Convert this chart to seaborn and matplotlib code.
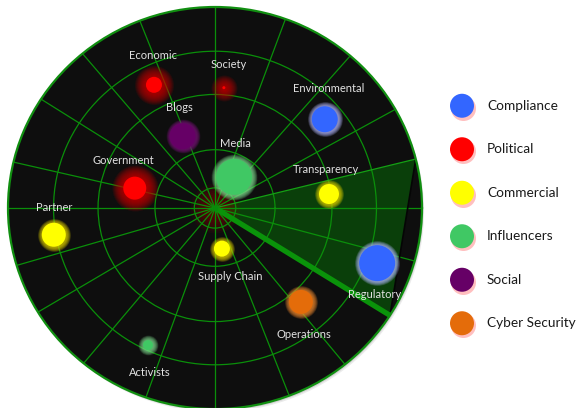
import numpy as np
import pandas as pd
import matplotlib
matplotlib.use("Agg")
import matplotlib.pyplot as plt
import matplotlib.transforms as mtransforms
from matplotlib.patches import Ellipse
import seaborn as sns

# ---- data -------------------------------------------------------------
labels = ["Economic", "Society", "Blogs", "Government", "Media", "Environmental",
          "Transparency", "Partner", "Supply Chain", "Activists", "Operations", "Regulatory"]
groups = ["Political", "Political", "Social", "Political", "Influencers", "Compliance",
          "Commercial", "Commercial", "Commercial", "Influencers", "Cyber Security", "Compliance"]
bearing_deg = [115.7, 85.9, 113.7, 165.7, 59.2, 39.8, 7.2, 189.7, 279.4, 244.6, 311.6, 340.7]
proximity = [0.68, 0.60, 0.39, 0.40, 0.18, 0.69, 0.555, 0.79, 0.205, 0.755, 0.625, 0.83]
impact = [8, 1.5, 13, 11.5, 18, 13, 10, 12, 8, 5, 12, 18]

legend_order = ["Compliance", "Political", "Commercial", "Influencers", "Social", "Cyber Security"]

# radar grid
spoke_deg = [0, 29.4, 49.2, 70.1, 90, 111.3, 129.8, 147.2, 166.8, 180,
             196.6, 211.2, 230.6, 250.5, 270, 291, 308.9, 344.7]
ring_r = [0.1, 0.29, 0.565, 0.78]
sweep_from_deg = 14.1
sweep_to_deg = -32.3

# ---- styling ----------------------------------------------------------
palette = {"Compliance": "#3366ff", "Political": "#ff0000", "Commercial": "#ffff00",
           "Influencers": "#40c864", "Social": "#660066", "Cyber Security": "#e46c0a"}
glow_color = {"Compliance": "#b4b8ff", "Political": "#d00000", "Commercial": "#e0d000",
              "Influencers": "#80e090", "Social": "#7a107a", "Cyber Security": "#f08a30"}
glow_width = {"Compliance": 4.5, "Political": 11.5, "Commercial": 4.5,
              "Influencers": 5, "Social": 4, "Cyber Security": 4.5}
# label placement (pixels, +down)
label_dx = [-1, 5, -3, -11, 1, 4, -3, 0, 8, 2, 3, -3]
label_dy = [-29, -23, -29, -28, -33, -31, -25, -27, 28, 27, 33, 31]

PT = 0.72  # points per pixel at 100 dpi
GRID = "#0a8f0a"

sns.set_theme(style="white")
plt.rcParams["font.family"] = ["Lato", "DejaVu Sans"]

fig = plt.figure(figsize=(5.76, 4.08), dpi=100, facecolor="white")

# soft shadow behind the radar disc
cx, cy, w, h = 215 / 576, (408 - 208) / 408, 414 / 576, 402 / 408
for off, a in [(3.0, 0.25), (1.8, 0.45)]:
    sh = Ellipse((cx, cy), w, h, transform=mtransforms.offset_copy(
        fig.transFigure, fig=fig, x=off * 0.7, y=-off, units="dots"),
        facecolor="#b0b0b0", edgecolor="none", alpha=a, zorder=-5)
    fig.add_artist(sh)

ax = fig.add_axes([8 / 576, -1 / 408, 414 / 576, 402 / 408], projection="polar")
ax.set_aspect("auto")
ax.set_facecolor("#0e0e0e")
ax.set_axisbelow("line")
ax.set_ylim(0, 1)
ax.set_xticks(np.deg2rad(spoke_deg))
ax.set_xticklabels([])
ax.set_yticks(ring_r)
ax.set_yticklabels([])
ax.grid(True, color=GRID, lw=0.9)
ax.spines["polar"].set_color("#118f11")
ax.spines["polar"].set_linewidth(1.6)
ax.tick_params(length=0)

# sweep wedge
t0, t1 = np.deg2rad(sweep_from_deg), np.deg2rad(sweep_to_deg)
ax.fill([0, t0, t1], [0, 1, 1], color="#0a3f0a", lw=0, zorder=1)
ax.plot([0, t0], [0, 1], color="#14a014", lw=0.9, zorder=2)
ax.plot([t0, t1], [1, 1], color="#050505", lw=1.2, zorder=2)
ax.plot([0, t1], [0, 1], color="#0a930a", lw=3.8, solid_capstyle="butt", zorder=2.5)

# centre glow
for k in range(12):
    rad = 3 + 22 * (k + 1) / 12
    ax.scatter([0], [0], s=(2 * rad * PT) ** 2, color="#a00000", alpha=0.07,
               lw=0, zorder=1.2)
ax.scatter([0], [0], s=(6 * PT) ** 2, color="#0a8a0a", lw=0, zorder=2.6)

df = pd.DataFrame({"label": labels, "group": groups,
                   "theta": np.deg2rad(bearing_deg), "r": proximity, "impact": impact})

# halos
for _, row in df.iterrows():
    gw = glow_width[row.group]
    n = 12
    for k in range(n):
        rad = row.impact + gw * (k + 1) / n
        ax.scatter([row.theta], [row.r], s=(2 * rad * PT) ** 2,
                   color=glow_color[row.group], alpha=0.11, lw=0, zorder=3)

# cores
sns.scatterplot(data=df, x="theta", y="r", hue="group", palette=palette,
                s=[(2 * v * PT) ** 2 for v in impact], linewidth=0,
                legend=False, ax=ax, zorder=4)
ax.set_xlabel("")
ax.set_ylabel("")

for i, row in df.iterrows():
    ax.annotate(row.label, (row.theta, row.r),
                xytext=(label_dx[i] * PT, -label_dy[i] * PT), textcoords="offset points",
                ha="center", va="center", fontsize=8, color="#e2e2e2", zorder=5)

# legend panel
lax = fig.add_axes([440 / 576, (408 - 345) / 408, 136 / 576, 261 / 408])
lax.set_xlim(0, 136)
lax.set_ylim(len(legend_order) - 0.5, -0.5)
lax.axis("off")
leg = pd.DataFrame({"group": legend_order, "row": np.arange(len(legend_order)),
                    "x": 22})
shadow_tr = mtransforms.offset_copy(lax.transData, fig=fig, x=1.2, y=-1.8, units="dots")
lax.scatter(leg.x, leg.row, s=(25 * PT) ** 2, color="#ffb0b0", alpha=0.8, lw=0,
            transform=shadow_tr)
sns.scatterplot(data=leg, x="x", y="row", hue="group", palette=palette,
                s=(24 * PT) ** 2, linewidth=0, legend=False, ax=lax, zorder=3)
lax.set_xlabel("")
lax.set_ylabel("")
for _, row in leg.iterrows():
    lax.text(47, row.row, row.group, ha="left", va="center", fontsize=9.8,
             color="#1a1a1a")

fig.savefig("out.png", dpi=100, facecolor="white")
